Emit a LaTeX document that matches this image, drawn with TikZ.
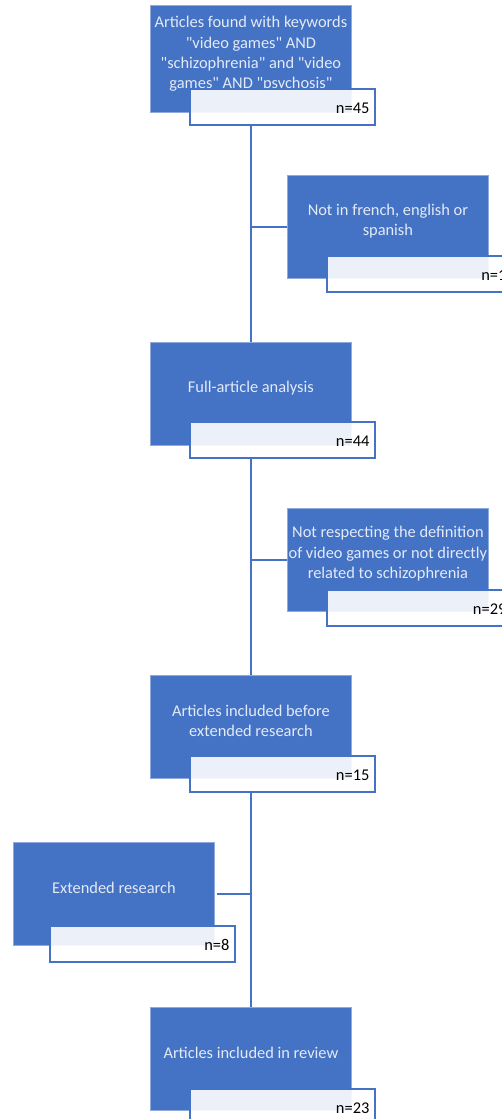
\documentclass[tikz,border=0pt]{standalone}
\usepackage{fontspec}
\setmainfont{Carlito}
\usetikzlibrary{positioning}
\definecolor{stageblue}{HTML}{4472C4}
\definecolor{stageline}{HTML}{8FAADC}
\definecolor{stagefont}{HTML}{E4EAF6}
\newcommand{\qt}{\textquotedbl}
\tikzset{
  stage/.style={draw=stageline, line width=0.8pt, fill=stageblue, anchor=north west,
    minimum width=201pt, minimum height=103pt, inner sep=0pt},
  stagetext/.style={text=stagefont, align=center, inner sep=0pt,
    font=\fontsize{16.4}{20.3}\selectfont},
  nbox/.style={draw=stageblue, line width=1.6pt, fill=white, fill opacity=0.9,
    anchor=north west, minimum width=185pt, minimum height=36pt, inner sep=0pt},
  ntext/.style={anchor=base east, inner sep=0pt, text=black,
    font=\fontsize{16.4}{18}\selectfont},
  link/.style={draw=stageblue, line width=1.6pt},
}
\begin{document}
\begin{tikzpicture}[x=1pt, y=-1pt]
    \useasboundingbox (0,0) rectangle (502,1119);
    \clip (0,0) rectangle (502,1119);
    \fill[white] (0,0) rectangle (502,1119);
    %stages
    \node[stage, minimum height=107pt] (found) at (150,5) {};
    \node[stage] (lang) at (287,175) {};
    \node[stage] (full) at (150,342) {};
    \node[stage] (def) at (287,508) {};
    \node[stage] (before) at (150,675) {};
    \node[stage] (ext) at (13,842) {};
    \node[stage] (review) at (150,1007) {};
    %texts
    \node[stagetext] (found-t) at ([yshift=5pt]found.center) {Articles found with keywords\\\qt video games\qt{} AND\\\qt schizophrenia\qt{} and \qt video\\games\qt{} AND \qt psychosis\qt};
    \node[stagetext] (lang-t) at ([yshift=6pt]lang.center) {Not in french, english or\\spanish};
    \node[stagetext] (full-t) at ([yshift=6pt]full.center) {Full-article analysis};
    \node[stagetext] (def-t) at ([yshift=6pt]def.center) {Not respecting the definition\\of video games or not directly\\related to schizophrenia};
    \node[stagetext] (before-t) at ([yshift=6pt]before.center) {Articles included before\\extended research};
    \node[stagetext] (ext-t) at ([yshift=6pt]ext.center) {Extended research};
    \node[stagetext] (review-t) at ([yshift=6pt]review.center) {Articles included in review};
    %counts
    \node[nbox] (found-n) at (189,88) {};
    \node[nbox] (lang-n) at (326,255) {};
    \node[nbox] (full-n) at (189,421) {};
    \node[nbox] (def-n) at (326,589) {};
    \node[nbox] (before-n) at (189,755) {};
    \node[nbox] (ext-n) at (49,925) {};
    \node[nbox] (review-n) at (189,1088) {};
    \node[ntext] (found-c) at ([xshift=-6pt, yshift=12pt]found-n.south east) {n=45};
    \node[ntext] (lang-c) at ([xshift=-6pt, yshift=12pt]lang-n.south east) {n=1};
    \node[ntext] (full-c) at ([xshift=-6pt, yshift=12pt]full-n.south east) {n=44};
    \node[ntext] (def-c) at ([xshift=-6pt, yshift=12pt]def-n.south east) {n=29};
    \node[ntext] (before-c) at ([xshift=-6pt, yshift=12pt]before-n.south east) {n=15};
    \node[ntext] (ext-c) at ([xshift=-6pt, yshift=12pt]ext-n.south east) {n=8};
    \node[ntext] (review-c) at ([xshift=-6pt, yshift=12pt]review-n.south east) {n=23};
    %links
    \draw[link] (found.south |- found-n.south) -- (full.north);
    \draw[link] (full.south |- full-n.south) -- (before.north);
    \draw[link] (before.south |- before-n.south) -- (review.north);
    \draw[link] (lang.west) -- (lang.west -| found.south);
    \draw[link] (def.west) -- (def.west -| full.south);
    \draw[link] ([xshift=2pt]ext.east) -- (ext.east -| before.south);
\end{tikzpicture}
\end{document}
